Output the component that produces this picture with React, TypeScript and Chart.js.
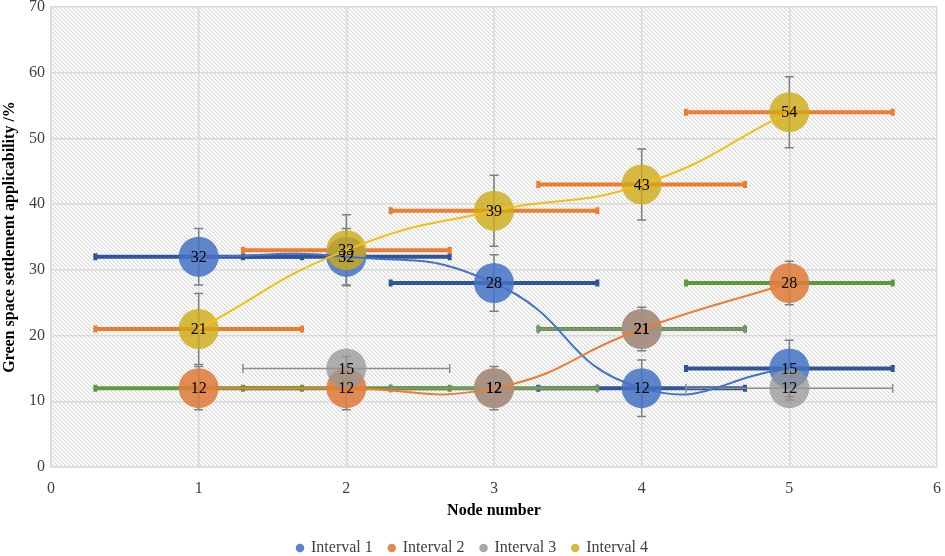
import React, { useEffect, useRef } from 'react';
import { Chart, registerables } from 'chart.js';

Chart.register(...registerables);

// ---------- data ----------
const seriesNames = ['Interval 1', 'Interval 2', 'Interval 3', 'Interval 4'];
const nodeNumbers = [1, 2, 3, 4, 5];
const interval1 = [32, 32, 28, 12, 15];
const interval2 = [12, 12, 12, 21, 28];
const interval3: (number | null)[] = [null, 15, 12, 21, 12];
const interval4 = [21, 33, 39, 43, 54];
const yErrors = [4.3, 3.3, 1.8, 5.4];
const xError = 0.7;
const xAxisMin = 0;
const xAxisMax = 6;
const xAxisStep = 1;
const yAxisMin = 0;
const yAxisMax = 70;
const yAxisStep = 10;
const xTitle = 'Node number';
const yTitle = 'Green space settlement applicability /%';

const seriesValues = [interval1, interval2, interval3, interval4];

// ---------- styles ----------
const serif = '"Liberation Serif", "Times New Roman", serif';
const bubbleFills = [
  'rgba(68,114,196,0.85)',
  'rgba(222,125,60,0.88)',
  'rgba(150,150,150,0.75)',
  'rgba(205,170,20,0.8)',
];
const lineColors = ['#4472C4', '#ED7D31', null, '#F2C010'];
const legendColors = ['#5B83CC', '#E08A50', '#A8A8A8', '#D8BA3A'];
const xBarStyles = [
  { color: '#2F5597', width: 4, cap: 7 },
  { color: '#5E9A3C', width: 4, cap: 7 },
  { color: '#8C8C8C', width: 1.5, cap: 9 },
  { color: '#ED7D31', width: 4, cap: 7 },
];
const yBarStyle = { color: '#7F7F7F', width: 1.5, cap: 9 };

function pointsOf(values: (number | null)[]) {
  const pts: { x: number; y: number }[] = [];
  values.forEach((v, i) => {
    if (v !== null && v !== undefined) pts.push({ x: nodeNumbers[i], y: v });
  });
  return pts;
}

function makePattern(ctx: CanvasRenderingContext2D) {
  const c = document.createElement('canvas');
  c.width = 4;
  c.height = 4;
  const g = c.getContext('2d')!;
  g.fillStyle = '#ffffff';
  g.fillRect(0, 0, 4, 4);
  for (let i = 0; i < 4; i++) {
    g.fillStyle = '#d9d9d9';
    g.fillRect(i, i, 1, 1);
    g.fillStyle = '#efefef';
    g.fillRect((i + 1) % 4, i, 1, 1);
  }
  return ctx.createPattern(c, 'repeat');
}

const backgroundPlugin = {
  id: 'hatchBackground',
  beforeDraw(chart: any) {
    const { ctx, chartArea } = chart;
    if (!chartArea) return;
    ctx.save();
    const p = makePattern(ctx);
    if (p) ctx.fillStyle = p;
    ctx.fillRect(chartArea.left, chartArea.top, chartArea.right - chartArea.left, chartArea.bottom - chartArea.top);
    ctx.restore();
  },
};

const errorBarPlugin = {
  id: 'errorBars',
  beforeDatasetsDraw(chart: any) {
    const { ctx } = chart;
    const xs = chart.scales.x;
    const ys = chart.scales.y;
    ctx.save();
    ctx.lineCap = 'butt';
    seriesValues.forEach((vals, s) => {
      const st = xBarStyles[s];
      pointsOf(vals).forEach((p) => {
        // horizontal error bar
        const x0 = xs.getPixelForValue(p.x - xError);
        const x1 = xs.getPixelForValue(p.x + xError);
        const py = ys.getPixelForValue(p.y);
        ctx.strokeStyle = st.color;
        ctx.lineWidth = st.width;
        ctx.beginPath();
        ctx.moveTo(x0, py);
        ctx.lineTo(x1, py);
        ctx.stroke();
        ctx.beginPath();
        ctx.moveTo(x0, py - st.cap / 2);
        ctx.lineTo(x0, py + st.cap / 2);
        ctx.moveTo(x1, py - st.cap / 2);
        ctx.lineTo(x1, py + st.cap / 2);
        ctx.stroke();
        // vertical error bar
        const px = xs.getPixelForValue(p.x);
        const y0 = ys.getPixelForValue(p.y - yErrors[s]);
        const y1 = ys.getPixelForValue(p.y + yErrors[s]);
        ctx.strokeStyle = yBarStyle.color;
        ctx.lineWidth = yBarStyle.width;
        ctx.beginPath();
        ctx.moveTo(px, y0);
        ctx.lineTo(px, y1);
        ctx.moveTo(px - yBarStyle.cap / 2, y0);
        ctx.lineTo(px + yBarStyle.cap / 2, y0);
        ctx.moveTo(px - yBarStyle.cap / 2, y1);
        ctx.lineTo(px + yBarStyle.cap / 2, y1);
        ctx.stroke();
      });
    });
    ctx.restore();
  },
};

const valueLabelPlugin = {
  id: 'valueLabels',
  afterDatasetsDraw(chart: any) {
    const { ctx } = chart;
    const xs = chart.scales.x;
    const ys = chart.scales.y;
    ctx.save();
    ctx.font = `16px ${serif}`;
    ctx.fillStyle = '#000000';
    ctx.textAlign = 'center';
    ctx.textBaseline = 'middle';
    seriesValues.forEach((vals) => {
      pointsOf(vals).forEach((p) => {
        ctx.fillText(String(p.y), xs.getPixelForValue(p.x), ys.getPixelForValue(p.y) + 1);
      });
    });
    ctx.restore();
  },
};

export default function App() {
  const canvasRef = useRef<HTMLCanvasElement | null>(null);

  useEffect(() => {
    const canvas = canvasRef.current;
    if (!canvas) return;

    const bubbleSets = seriesValues.map((vals, s) => ({
      label: seriesNames[s],
      data: pointsOf(vals),
      showLine: false,
      pointRadius: 20,
      pointHoverRadius: 20,
      pointBackgroundColor: bubbleFills[s],
      pointBorderWidth: 0,
      pointBorderColor: 'rgba(0,0,0,0)',
      order: 20 - s,
    }));
    const lineSets: any[] = [];
    seriesValues.forEach((vals, s) => {
      if (!lineColors[s]) return;
      lineSets.push({
        label: seriesNames[s] + ' line',
        data: pointsOf(vals),
        showLine: true,
        tension: 0.5,
        borderColor: lineColors[s],
        borderWidth: 2,
        pointRadius: 0,
        pointHoverRadius: 0,
        order: 10 - s,
      });
    });

    const chart = new Chart(canvas, {
      type: 'scatter',
      data: { datasets: [...bubbleSets, ...lineSets] as any },
      options: {
        responsive: false,
        animation: false,
        devicePixelRatio: 1,
        layout: { autoPadding: false, padding: { top: 7, left: 0, right: 0, bottom: 0 } },
        scales: {
          x: {
            type: 'linear',
            min: xAxisMin,
            max: xAxisMax,
            ticks: {
              stepSize: xAxisStep,
              color: '#404040',
              font: { family: serif, size: 16 },
              padding: 12,
              maxRotation: 0,
            },
            grid: { color: '#d9d9d9', lineWidth: 1.5, drawTicks: false },
            border: { color: '#d9d9d9', width: 1.5 },
            title: {
              display: true,
              text: xTitle,
              color: '#000000',
              font: { family: serif, size: 16, weight: 'bold' },
              padding: { top: 0, bottom: 4 },
            },
            afterFit(scale: any) {
              scale.height = 57;
              scale.paddingLeft = 0;
              scale.paddingRight = 8;
            },
          },
          y: {
            type: 'linear',
            min: yAxisMin,
            max: yAxisMax,
            ticks: {
              stepSize: yAxisStep,
              color: '#404040',
              font: { family: serif, size: 16 },
              padding: 6,
            },
            grid: { color: '#d9d9d9', lineWidth: 1.5, drawTicks: false },
            border: { color: '#d9d9d9', width: 1.5 },
            title: {
              display: true,
              text: yTitle,
              color: '#000000',
              font: { family: serif, size: 16, weight: 'bold' },
              padding: { top: 0, bottom: 0 },
            },
            afterFit(scale: any) {
              scale.width = 51;
              scale.paddingTop = 0;
              scale.paddingBottom = 0;
            },
          },
        },
        plugins: {
          tooltip: { enabled: false },
          legend: {
            display: true,
            position: 'bottom',
            maxHeight: 32,
            labels: {
              usePointStyle: true,
              boxWidth: 6,
              boxHeight: 6,
              padding: 16,
              color: '#404040',
              font: { family: serif, size: 16 },
              generateLabels: () =>
                seriesNames.map((name, i) => ({
                  text: name,
                  fillStyle: legendColors[i],
                  strokeStyle: legendColors[i],
                  lineWidth: 0,
                  pointStyle: 'circle',
                  hidden: false,
                  datasetIndex: i,
                  fontColor: '#404040',
                })),
            },
          },
        },
      } as any,
      plugins: [backgroundPlugin, errorBarPlugin, valueLabelPlugin],
    });

    return () => chart.destroy();
  }, []);

  return (
    <div style={{ position: 'fixed', left: 0, top: 0, width: 945, height: 556, background: '#ffffff' }}>
      <canvas ref={canvasRef} width={945} height={556} style={{ width: 945, height: 556, display: 'block' }} />
    </div>
  );
}
